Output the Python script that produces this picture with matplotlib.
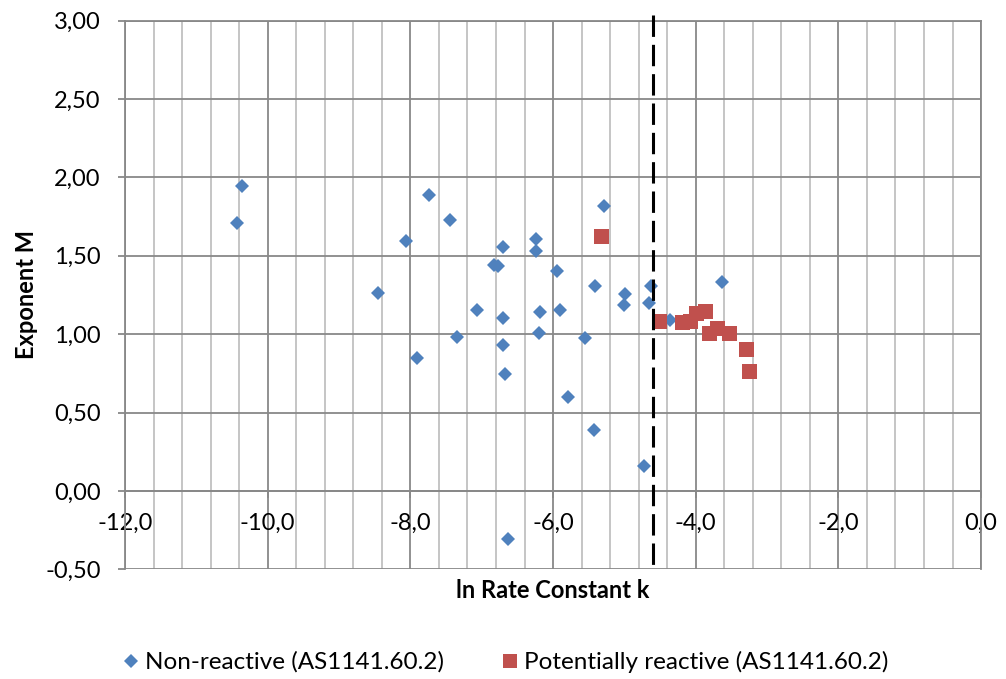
import matplotlib
matplotlib.use("Agg")
import matplotlib.pyplot as plt
from matplotlib.ticker import MultipleLocator
from matplotlib.lines import Line2D

plt.rcParams['font.family'] = ['Lato', 'DejaVu Sans']

# ln k and exponent M
nonreactive_lnk = [-10.36, -10.43, -8.46, -8.06, -7.91, -7.74, -7.45, -7.34, -7.06,
                   -6.83, -6.77, -6.70, -6.70, -6.70, -6.68, -6.63, -6.24, -6.24,
                   -6.18, -6.19, -5.94, -5.90, -5.79, -5.55, -5.43, -5.41, -5.29,
                   -4.99, -5.00, -4.72, -4.66, -4.62, -4.36, -3.63]
nonreactive_m = [1.947, 1.712, 1.265, 1.597, 0.849, 1.889, 1.730, 0.981, 1.154,
                 1.442, 1.435, 1.555, 1.105, 0.928, 0.743, -0.304, 1.610, 1.533,
                 1.139, 1.005, 1.405, 1.154, 0.602, 0.977, 0.391, 1.309, 1.817,
                 1.254, 1.186, 0.159, 1.201, 1.309, 1.090, 1.333]

reactive_lnk = [-5.33, -4.51, -4.19, -4.08, -3.99, -3.87, -3.82, -3.70, -3.53, -3.30, -3.26]
reactive_m = [1.623, 1.084, 1.075, 1.085, 1.133, 1.148, 1.005, 1.037, 1.009, 0.903, 0.764]

threshold_lnk = -4.605   # ln(0.01)

x_ticks = [-12, -10, -8, -6, -4, -2, 0]
x_labels = ['-12,0', '-10,0', '-8,0', '-6,0', '-4,0', '-2,0', '0,0']
y_ticks = [-0.5, 0.0, 0.5, 1.0, 1.5, 2.0, 2.5, 3.0]
y_labels = ['-0,50', '0,00', '0,50', '1,00', '1,50', '2,00', '2,50', '3,00']

blue = '#4F81BD'
red = '#C0504D'
dark_grid = '#888888'
light_grid = '#c0c0c0'

fig = plt.figure(figsize=(10.06, 6.79), dpi=100)
ax = fig.add_axes([0.1243, 0.1616, 0.8509, 0.808])

ax.set_xlim(-12, 0)
ax.set_ylim(-0.5, 3.0)

# moving the spine resets the ticks, so do it before styling them
ax.spines['bottom'].set_position(('data', 0))
for s in ['left', 'bottom', 'top', 'right']:
    ax.spines[s].set_color(dark_grid)
    ax.spines[s].set_linewidth(1.3)

ax.set_xticks(x_ticks, labels=x_labels)
ax.set_yticks(y_ticks, labels=y_labels)
ax.xaxis.set_minor_locator(MultipleLocator(0.4))

ax.grid(which='major', axis='both', color=dark_grid, lw=1.3)
ax.grid(which='minor', axis='x', color=light_grid, lw=1.3)
ax.set_axisbelow(True)

ax.tick_params(axis='x', which='major', direction='out', length=5, width=1.3,
               color=dark_grid, pad=11, labelsize=17)
ax.tick_params(axis='x', which='minor', length=0)
ax.tick_params(axis='y', which='major', direction='out', length=5, width=1.3,
               color=dark_grid, pad=12.5, labelsize=17)

ax.plot(nonreactive_lnk, nonreactive_m, linestyle='none', marker='D',
        markersize=7.6, color=blue, markeredgewidth=0, zorder=3)
ax.plot(reactive_lnk, reactive_m, linestyle='none', marker='s',
        markersize=10.8, color=red, markeredgewidth=0, zorder=3)

ax.plot([threshold_lnk, threshold_lnk], [3.035, -0.475], color='black', lw=2.2,
        dashes=(7, 2.6), clip_on=False, zorder=4)

ax.set_xlabel('ln Rate Constant k', fontsize=17, fontweight='bold', va='center')
ax.xaxis.set_label_coords(0.5, -0.038)
ax.set_ylabel('Exponent M', fontsize=17, fontweight='bold', va='center')
ax.yaxis.set_label_coords(-0.115, 0.5)

handles = [
    Line2D([], [], linestyle='none', marker='D', markersize=7, color=blue,
           markeredgewidth=0, label='Non-reactive (AS1141.60.2)'),
    Line2D([], [], linestyle='none', marker='s', markersize=10, color=red,
           markeredgewidth=0, label='Potentially reactive (AS1141.60.2)'),
]
fig.legend(handles=handles, loc='center', bbox_to_anchor=(0.503, 1 - 662 / 679),
           ncol=2, frameon=False, fontsize=17.5, handlelength=0.6,
           handletextpad=0.3, columnspacing=2.4)

fig.savefig('out.png', dpi=100)
